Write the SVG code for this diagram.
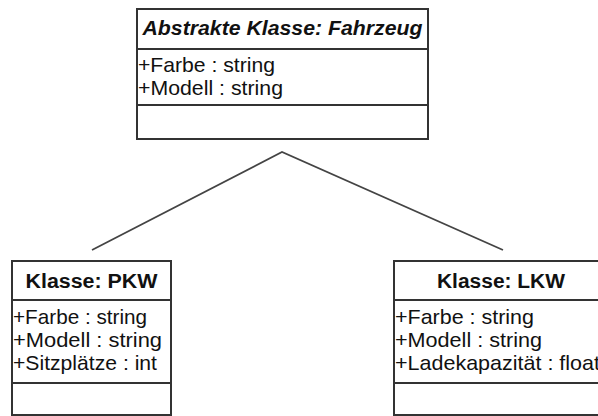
<svg xmlns="http://www.w3.org/2000/svg" width="598" height="416" viewBox="0 0 598 416">
<style>
.box{fill:#fff;stroke:#333;stroke-width:2}
.sep{stroke:#333;stroke-width:2}
.conn{fill:none;stroke:#444;stroke-width:1.8}
text{font-family:"Liberation Sans",Arial,sans-serif;font-size:21px;fill:#111}
.t{font-weight:bold;text-anchor:middle;font-size:20px}
.ti{font-weight:bold;font-style:italic;text-anchor:middle;font-size:20px}
</style>
<rect width="598" height="416" fill="#fff"/>
<g id="connectors">
<polyline class="conn" points="92,250 282,152 503,250"/>
</g>
<g id="fahrzeug">
<rect class="box" x="137" y="9" width="291" height="130"/>
<line class="sep" x1="137" y1="49" x2="428" y2="49"/>
<line class="sep" x1="137" y1="105" x2="428" y2="105"/>
<text class="ti" x="282.5" y="35" textLength="280" lengthAdjust="spacingAndGlyphs">Abstrakte Klasse: Fahrzeug</text>
<text x="138" y="72" textLength="137" lengthAdjust="spacingAndGlyphs">+Farbe : string</text>
<text x="138" y="95" textLength="145" lengthAdjust="spacingAndGlyphs">+Modell : string</text>
</g>
<g id="pkw">
<rect class="box" x="12" y="261" width="159" height="154"/>
<line class="sep" x1="12" y1="300" x2="171" y2="300"/>
<line class="sep" x1="12" y1="383" x2="171" y2="383"/>
<text class="t" x="91.5" y="287.5" textLength="132" lengthAdjust="spacingAndGlyphs">Klasse: PKW</text>
<text x="13" y="324" textLength="134" lengthAdjust="spacingAndGlyphs">+Farbe : string</text>
<text x="13" y="347" textLength="149" lengthAdjust="spacingAndGlyphs">+Modell : string</text>
<text x="13" y="370" textLength="144" lengthAdjust="spacingAndGlyphs">+Sitzplätze : int</text>
</g>
<g id="lkw">
<rect class="box" x="394" y="261" width="214" height="154"/>
<line class="sep" x1="394" y1="300" x2="608" y2="300"/>
<line class="sep" x1="394" y1="383" x2="608" y2="383"/>
<text class="t" x="501" y="287.5" textLength="128" lengthAdjust="spacingAndGlyphs">Klasse: LKW</text>
<text x="395" y="324" textLength="139" lengthAdjust="spacingAndGlyphs">+Farbe : string</text>
<text x="395" y="347" textLength="147" lengthAdjust="spacingAndGlyphs">+Modell : string</text>
<text x="395" y="370" textLength="205" lengthAdjust="spacingAndGlyphs">+Ladekapazität : float</text>
</g>
</svg>
